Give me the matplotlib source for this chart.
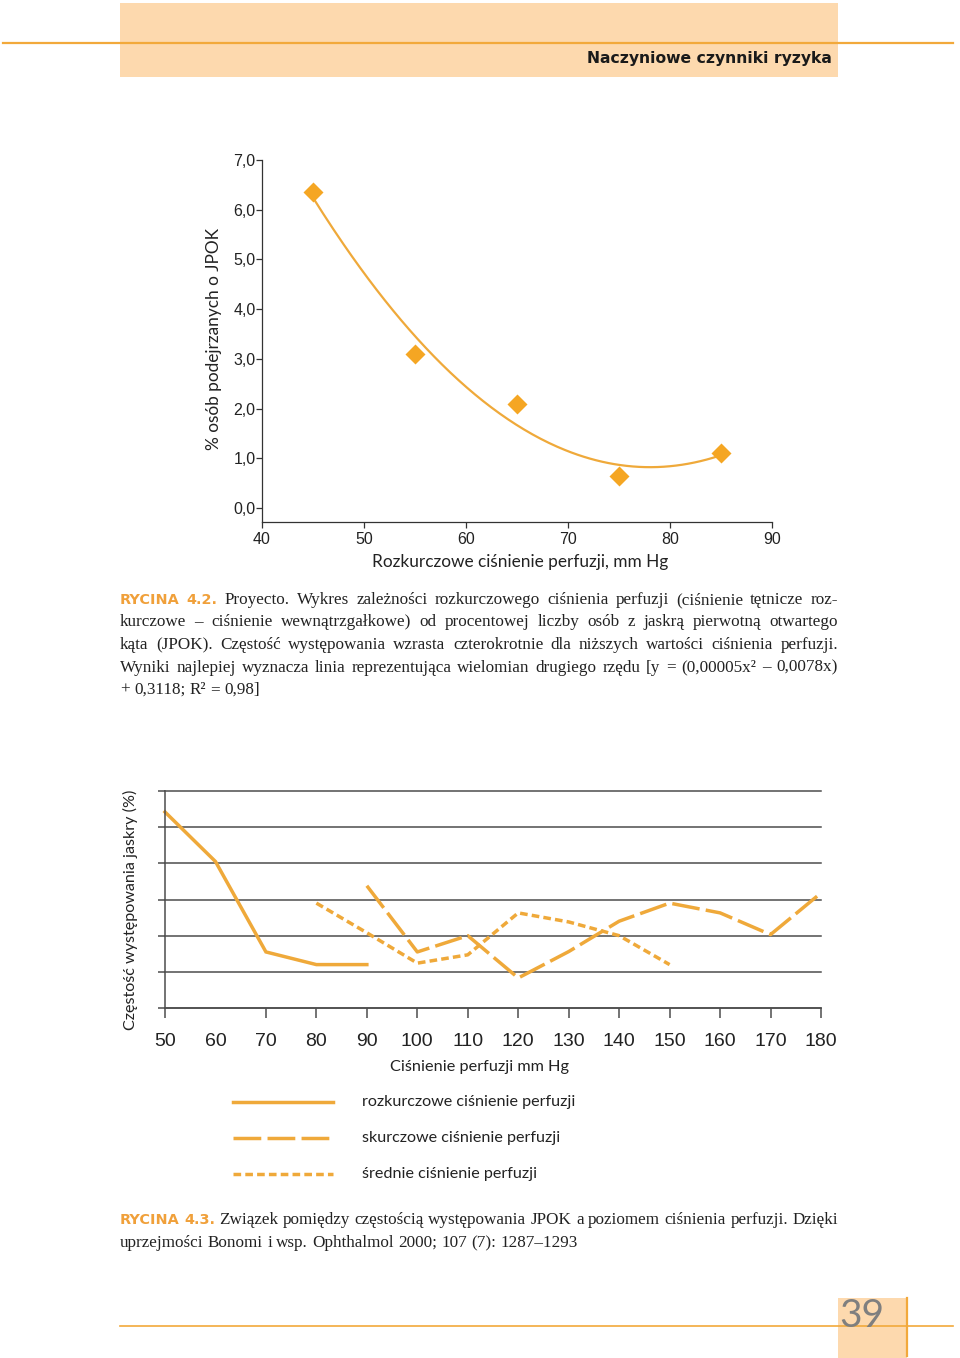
import numpy as np
import matplotlib
matplotlib.use('Agg')
import matplotlib.pyplot as plt
from matplotlib.patches import Rectangle

plt.rcParams['lines.scale_dashes'] = False

# ---------------- data: Rycina 4.2 ----------------
dbp_x = [45, 55, 65, 75, 85]
jpok_pct = [6.35, 3.1, 2.1, 0.65, 1.1]
top_xticks = [40, 50, 60, 70, 80, 90]
top_yticks = [0, 1, 2, 3, 4, 5, 6, 7]
top_yticklabels = ['0,0', '1,0', '2,0', '3,0', '4,0', '5,0', '6,0', '7,0']

# ---------------- data: Rycina 4.3 ----------------
diast_x = [50, 60, 70, 80, 90]
diast_y = [5.42, 4.05, 1.55, 1.2, 1.2]
syst_x = [90, 100, 110, 120, 130, 140, 150, 160, 170, 180]
syst_y = [3.38, 1.55, 2.0, 0.83, 1.56, 2.4, 2.9, 2.63, 2.03, 3.18]
mean_x = [80, 90, 100, 110, 120, 130, 140, 150]
mean_y = [2.9, 2.08, 1.24, 1.47, 2.63, 2.38, 2.0, 1.2]
bottom_xticks = [50, 60, 70, 80, 90, 100, 110, 120, 130, 140, 150, 160, 170, 180]
bottom_grid = [0, 1, 2, 3, 4, 5, 6]

legend_labels = ['rozkurczowe ciśnienie perfuzji',
                 'skurczowe ciśnienie perfuzji',
                 'średnie ciśnienie perfuzji']

ORANGE = '#EFA93A'
LINE_OR = '#F2A93B'
PEACH = '#FDD9AE'
GRID = '#4d4d4d'
SANS = ['Lato', 'DejaVu Sans']
BOLD = ['DejaVu Sans']
NARROW = ['Liberation Sans Narrow', 'Liberation Sans', 'DejaVu Sans']
SERIF = ['Liberation Serif', 'DejaVu Serif']

W, H = 960, 1358
fig = plt.figure(figsize=(W / 100, H / 100), dpi=100)
renderer = fig.canvas.get_renderer()

page = fig.add_axes([0, 0, 1, 1])
page.set_xlim(0, W)
page.set_ylim(H, 0)
page.axis('off')


def ax_px(l, t, r, b):
    a = fig.add_axes([l / W, 1 - b / H, (r - l) / W, (b - t) / H])
    a.set_facecolor('none')
    return a


def wid(t):
    return t.get_window_extent(renderer).width


def fit(t, target, rotated=False):
    bb = t.get_window_extent(renderer)
    w = bb.height if rotated else bb.width
    t.set_fontsize(t.get_fontsize() * target / w)


# ---------------- page decoration ----------------
page.add_patch(Rectangle((120, 3), 718, 74, color=PEACH, lw=0, zorder=0))
page.plot([3, 953], [43, 43], color=LINE_OR, lw=1.6, zorder=1)
t = page.text(832, 63, 'Naczyniowe czynniki ryzyka', ha='right', va='baseline',
              fontsize=13, fontweight='bold', family=BOLD, color='#1a1a1a')
fit(t, 244)

page.add_patch(Rectangle((838, 1298), 69, 60, color=PEACH, lw=0, zorder=0))
page.plot([120, 953], [1326, 1326], color=LINE_OR, lw=1.2, zorder=1)
page.plot([907, 907], [1298, 1356], color=LINE_OR, lw=1.6, zorder=1)
page.text(839, 1327, '39', ha='left', va='baseline', fontsize=28,
          family=SANS, color='#7f7f7f', zorder=2)

# ---------------- top chart ----------------
ax1 = ax_px(262, 160, 772, 522)
ax1.set_xlim(40, 90)
ax1.set_ylim(-0.28, 7.0)
for s in ['top', 'right']:
    ax1.spines[s].set_visible(False)
for s in ['left', 'bottom']:
    ax1.spines[s].set_color('#333333')
    ax1.spines[s].set_linewidth(0.9)
ax1.set_xticks(top_xticks)
ax1.set_yticks(top_yticks)
ax1.set_yticklabels(top_yticklabels)
ax1.tick_params(axis='both', direction='out', length=4, width=0.9, color='#333333',
                labelsize=11.5, labelcolor='#222222')
ax1.tick_params(axis='y', pad=0.5)
ax1.tick_params(axis='x', pad=3)
for lab in ax1.get_xticklabels() + ax1.get_yticklabels():
    lab.set_family(NARROW)
coef = np.polyfit(dbp_x, jpok_pct, 2)
xs = np.linspace(min(dbp_x), max(dbp_x), 200)
ax1.plot(xs, np.polyval(coef, xs), color=ORANGE, lw=1.6, clip_on=False)
ax1.plot(dbp_x, jpok_pct, ls='none', marker='D', ms=10.5, color='#F5A623',
         mec='none', clip_on=False)

t = page.text(214, 339, '% osób podejrzanych o JPOK', rotation=90, ha='center',
              va='center', fontsize=12, family=SANS, color='#222222')
fit(t, 222, rotated=True)
t = page.text(520, 562, 'Rozkurczowe ciśnienie perfuzji, mm Hg', ha='center',
              va='center', fontsize=12, family=SANS, color='#222222')
fit(t, 296)

# ---------------- captions ----------------
cap1 = ['RYCINA 4.2. Proyecto. Wykres zależności rozkurczowego ciśnienia perfuzji (ciśnienie tętnicze roz-',
        'kurczowe – ciśnienie wewnątrzgałkowe) od procentowej liczby osób z jaskrą pierwotną otwartego',
        'kąta (JPOK). Częstość występowania wzrasta czterokrotnie dla niższych wartości ciśnienia perfuzji.',
        'Wyniki najlepiej wyznacza linia reprezentująca wielomian drugiego rzędu [y = (0,00005x² – 0,0078x)',
        '+ 0,3118; R² = 0,98]']
cap2 = ['RYCINA 4.3. Związek pomiędzy częstością występowania JPOK a poziomem ciśnienia perfuzji. Dzięki',
        'uprzejmości Bonomi i wsp. Ophthalmol 2000; 107 (7): 1287–1293']

RYC_SCALE = 0.84
BLOCK = 718


def split_words(line, first):
    out = []
    for j, w in enumerate(line.split(' ')):
        out.append((w, first and j < 2))
    return out


def word_widths(words, fs):
    ws = []
    for w, ryc in words:
        if ryc:
            a = page.text(0, 0, w, family=BOLD, fontweight='bold', fontsize=fs * RYC_SCALE)
        else:
            a = page.text(0, 0, w, family=SERIF, fontsize=fs)
        ws.append(wid(a))
        a.remove()
    return ws


# pick one caption size so that no justified line is overfull
ks = []
for cap in (cap1, cap2):
    for i, line in enumerate(cap[:-1]):
        words = split_words(line, i == 0)
        sw = sum(word_widths(words, 12))
        gap = 0.25 * 12 * 100 / 72
        ks.append(BLOCK / (sw + (len(words) - 1) * gap * 1.05))
CAP_FS = 12 * min(ks)

cap_props = dict(family=SERIF, fontsize=CAP_FS, color='#222222')
ryc_props = dict(family=BOLD, fontsize=CAP_FS * RYC_SCALE, fontweight='bold', color='#F0A03A')


def justified(words, y, x0=120, x1=120 + BLOCK, last=False):
    arts = [page.text(x0, y, w, ha='left', va='baseline',
                      **(ryc_props if r else cap_props)) for w, r in words]
    widths = [wid(a) for a in arts]
    if last or len(arts) == 1:
        gap = CAP_FS * 0.25 * 100 / 72
    else:
        gap = (x1 - x0 - sum(widths)) / (len(arts) - 1)
    x = x0
    for a, w in zip(arts, widths):
        a.set_x(x)
        x += w + gap


def caption(lines, y0, step):
    for i, line in enumerate(lines):
        justified(split_words(line, i == 0), y0 + i * step, last=(i == len(lines) - 1))


caption(cap1, 604, 22.5)
caption(cap2, 1224, 23)

# ---------------- bottom chart ----------------
ax2 = ax_px(165, 791, 821, 1008)
ax2.set_xlim(50, 180)
ax2.set_ylim(0, 6)
for s in ['top', 'right']:
    ax2.spines[s].set_visible(False)
for s in ['left', 'bottom']:
    ax2.spines[s].set_color(GRID)
    ax2.spines[s].set_linewidth(1.1)
ax2.set_yticks(bottom_grid)
ax2.set_yticklabels([])
ax2.yaxis.grid(True, color=GRID, lw=1.1)
for gl in ax2.get_ygridlines():
    gl.set_clip_on(False)
ax2.set_xticks(bottom_xticks)
ax2.tick_params(axis='y', direction='out', length=5, width=1.1, color=GRID)
ax2.tick_params(axis='x', direction='out', length=7, width=1.1, color=GRID,
                pad=11, labelsize=14, labelcolor='#222222')
for lab in ax2.get_xticklabels():
    lab.set_family(NARROW)
ax2.xaxis.get_major_ticks()[1].tick1line.set_visible(False)

LW = 2.5
DASH = (0, (20, 4.5))
DOT = (0, (5.5, 3))
ax2.plot(diast_x, diast_y, color=ORANGE, lw=LW, clip_on=False, solid_joinstyle='miter')
ax2.plot(syst_x, syst_y, color=ORANGE, lw=LW, ls=DASH, clip_on=False)
ax2.plot(mean_x, mean_y, color=ORANGE, lw=LW, ls=DOT, clip_on=False)

t = page.text(130, 910, 'Częstość występowania jaskry (%)', rotation=90, ha='center',
              va='center', fontsize=12, family=SANS, color='#222222')
fit(t, 240, rotated=True)
t = page.text(480, 1067, 'Ciśnienie perfuzji mm Hg', ha='center', va='center',
              fontsize=12, family=SANS, color='#222222')
fit(t, 178)

# legend
styles = ['-', DASH, DOT]
legend_fs = 12
for k, (lab, st) in enumerate(zip(legend_labels, styles)):
    y = 1102 + 36 * k
    page.plot([233, 333], [y, y], color=ORANGE, lw=LW, ls=st)
    t = page.text(362, y, lab, ha='left', va='center', fontsize=12,
                  family=SANS, color='#222222')
    if k == 0:
        fit(t, 214)
        legend_fs = t.get_fontsize()
    else:
        t.set_fontsize(legend_fs)

fig.savefig('out.png', dpi=100)
